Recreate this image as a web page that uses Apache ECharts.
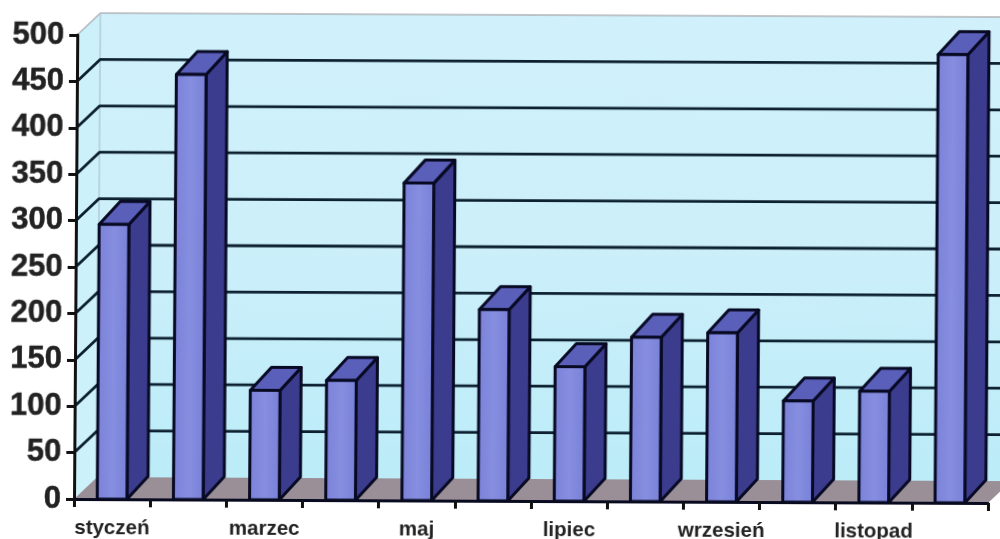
<!DOCTYPE html>
<html>
<head>
<meta charset="utf-8">
<script src="https://cdn.jsdelivr.net/npm/echarts@6/dist/echarts.min.js"></script>
<style>
html,body{margin:0;padding:0;background:#fff;width:1000px;height:539px;overflow:hidden}
#c{width:1000px;height:539px;transform-origin:74px 500px;transform:matrix(1,0.0044,-0.007,1,0,0)}
</style>
</head>
<body>
<div id="c"></div>
<script>
const months = ['styczeń','luty','marzec','kwiecień','maj','czerwiec','lipiec','sierpień','wrzesień','październik','listopad','grudzień'];
const values = [296,458,118,129,342,206,145,177,182,109,120,483];
const yGridValues = [50,100,150,200,250,300,350,400,450];

const wallDepth = {x:23, y:22};
const barDepth = {x:21, y:23};
const barRatio = 0.39;
const gridColor = '#0c2030';
const edge = '#080a24';

function poly(points, fill, stroke, lw, z2){
  return {type:'polygon', z2:z2||0, shape:{points}, style:{fill, stroke:stroke||'none', lineWidth:lw||0, lineJoin:'round'}};
}

function renderWalls(params, api){
  const g = params.coordSys, d = wallDepth;
  const L = g.x, R = g.x+g.width, T = g.y, B = g.y+g.height;
  const wallFill = {type:'linear',x:0,y:0,x2:0,y2:1,colorStops:[{offset:0,color:'#d0f1fb'},{offset:.5,color:'#cceffa'},{offset:1,color:'#bbecf8'}]};
  return {type:'group', children:[
    poly([[L+d.x,T-d.y],[R+d.x,T-d.y],[R+d.x,B-d.y],[L+d.x,B-d.y]], wallFill),
    poly([[L,T],[L+d.x,T-d.y],[L+d.x,B-d.y],[L,B]], '#ccf1fb'),
    poly([[L,B],[L+d.x,B-d.y],[R+d.x,B-d.y],[R,B]], '#9b8f97'),
    {type:'polyline', shape:{points:[[L,T],[L+d.x,T-d.y],[R+d.x,T-d.y]]}, style:{fill:'none',stroke:'#b0b4b8',lineWidth:1.5}},
    {type:'line', shape:{x1:L+d.x,y1:T-d.y,x2:L+d.x,y2:B-d.y}, style:{stroke:'#a9c4cf',lineWidth:1.2}}
  ]};
}

function renderGrid(params, api){
  const g = params.coordSys, d = wallDepth;
  const y = api.coord([0, api.value(1)])[1];
  const L = g.x, R = g.x+g.width;
  return {type:'polyline', shape:{points:[[L,y],[L+d.x,y-d.y],[R+d.x,y-d.y]]},
          style:{fill:'none',stroke:gridColor,lineWidth:2.8,lineJoin:'round'}};
}

function renderBar(params, api){
  const top = api.coord([api.value(0), api.value(1)]);
  const base = api.coord([api.value(0), 0]);
  const w = api.size([1,0])[0]*barRatio, d = barDepth;
  const l = top[0]-w/2, r = top[0]+w/2, t = top[1], b = base[1];
  const front = {type:'linear',x:0,y:0,x2:1,y2:0,colorStops:[{offset:0,color:'#7a81d8'},{offset:.5,color:'#868ee0'},{offset:1,color:'#7880d8'}]};
  return {type:'group', children:[
    poly([[r,t],[r+d.x,t-d.y],[r+d.x,b-d.y],[r,b]], '#3b3c8e', edge, 3, 1),
    poly([[l,t],[l+d.x,t-d.y],[r+d.x,t-d.y],[r,t]], '#5a5fba', edge, 3, 2),
    poly([[l,t],[r,t],[r,b],[l,b]], front, edge, 3, 3)
  ]};
}

const chart = echarts.init(document.getElementById('c'), null, {renderer:'canvas'});
chart.setOption({
  animation:false,
  backgroundColor:'#fff',
  grid:{left:74, right:12, top:35, bottom:39, containLabel:false},
  xAxis:{
    type:'category', data:months, boundaryGap:true, z:6,
    axisLine:{show:true,onZero:false,lineStyle:{color:'#080a20',width:3}},
    axisTick:{show:true,alignWithLabel:false,interval:0,length:8,lineStyle:{color:'#111',width:3}},
    axisLabel:{show:true,interval:1,margin:19,color:'#222',fontFamily:'Liberation Sans',fontWeight:'bold',fontSize:20.5}
  },
  yAxis:{
    type:'value', min:0, max:500, interval:50, z:6,
    axisLine:{show:true,lineStyle:{color:'#111',width:3}},
    axisTick:{show:true,length:8,lineStyle:{color:'#111',width:3}},
    axisLabel:{show:true,margin:13,color:'#222',fontFamily:'Liberation Sans',fontWeight:'bold',fontSize:31,textBorderColor:'#222',textBorderWidth:0.5},
    splitLine:{show:false}
  },
  series:[
    {type:'custom', name:'walls', z:1, silent:true, renderItem:renderWalls, data:[[0,0]], encode:{x:0,y:1}},
    {type:'custom', name:'grid', z:2, silent:true, renderItem:renderGrid, data:yGridValues.map(v=>[0,v]), encode:{x:0,y:1}},
    {type:'custom', name:'bars', z:3, renderItem:renderBar, data:values.map((v,i)=>[i,v]), encode:{x:0,y:1}}
  ]
});
</script>
</body>
</html>
